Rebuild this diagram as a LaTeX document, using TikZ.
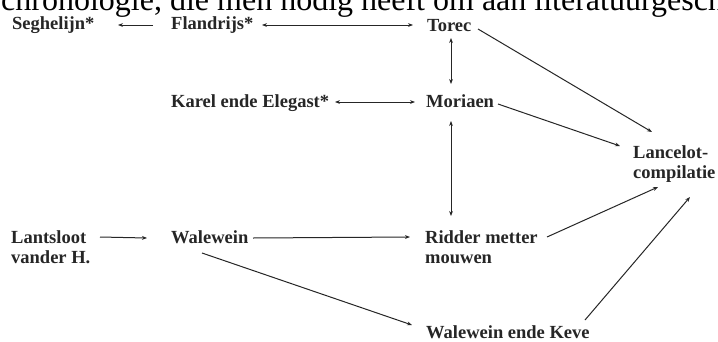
\documentclass[tikz,border=0pt]{standalone}
\usepackage{fontspec}
\setmainfont{Liberation Serif}
\newfontfamily\labfont{Liberation Serif Bold}
\usetikzlibrary{arrows.meta}
\begin{document}
\begin{tikzpicture}[x=1pt,y=1pt,
  lab/.style={font={\labfont\fontsize{18.5}{20.5}\selectfont}, inner sep=0pt, anchor=base west, text=black!85},
  labtwo/.style={lab, anchor=north west, align=left},
  tipa/.tip={Stealth[length=5pt,width=3.8pt]},
  arr/.style={-tipa, line width=1pt, draw=black!85},
  darr/.style={tipa-tipa, line width=1pt, draw=black!85}]
\clip (0,0) rectangle (718,-341);
\fill[white] (0,0) rectangle (718,-341);
% cut-off line of running text at the top
\node[font={\fontsize{32}{34}\selectfont}, inner sep=0pt, anchor=base west] (head) at (1,-10)
  {chronologie, die men nodig heeft om aan literatuurgeschiedenis};
% nodes
\node[lab] (seg) at (12,-29.5) {Seghelijn*};
\node[lab] (fla) at (171,-29.5) {Flandrijs*};
\node[lab] (tor) at (427,-31) {Torec};
\node[lab] (kar) at (171,-107) {Karel ende Elegast*};
\node[lab] (mor) at (426,-107) {Moriaen};
\node[labtwo] (lan) at (633,-145.4) {Lancelot-\\compilatie};
\node[labtwo] (lts) at (11,-230.4) {Lantsloot\\vander H.};
\node[lab] (wal) at (171,-243) {Walewein};
\node[labtwo] (rid) at (425,-230.4) {Ridder metter\\mouwen};
\node[lab] (kev) at (426,-338) {Walewein ende Keve};
% connectors
\draw[arr] ([shift={(-18,4.5)}]fla.base west) -- ([shift={(106,4.5)}]seg.base west);
\draw[darr] ([shift={(91,4.5)}]fla.base west) -- ([shift={(-14,6)}]tor.base west);
\draw[darr] ([shift={(24,-7)}]tor.base west) -- ([shift={(25,23)}]mor.base west);
\draw[darr] ([shift={(164,5)}]kar.base west) -- ([shift={(-11,5)}]mor.base west);
\draw[darr] ([shift={(25,-14)}]mor.base west) -- ([shift={(26,14.4)}]rid.north west);
\draw[arr] ([shift={(89,-6.6)}]lts.north west) -- ([shift={(-24,5)}]wal.base west);
\draw[arr] ([shift={(82,5)}]wal.base west) -- ([shift={(-15,-6.6)}]rid.north west);
\draw[arr] ([shift={(31,-10)}]wal.base west) -- ([shift={(-14,13)}]kev.base west);
\draw[arr] ([shift={(51,2)}]tor.base west) -- ([shift={(19,13.4)}]lan.north west);
\draw[arr] ([shift={(72,3)}]mor.base west) -- ([shift={(-13,-0.6)}]lan.north west);
\draw[arr] ([shift={(122,-6.6)}]rid.north west) -- ([shift={(25,-41.6)}]lan.north west);
\draw[arr] ([shift={(159,18)}]kev.base west) -- ([shift={(57,-51.6)}]lan.north west);
\end{tikzpicture}
\end{document}
